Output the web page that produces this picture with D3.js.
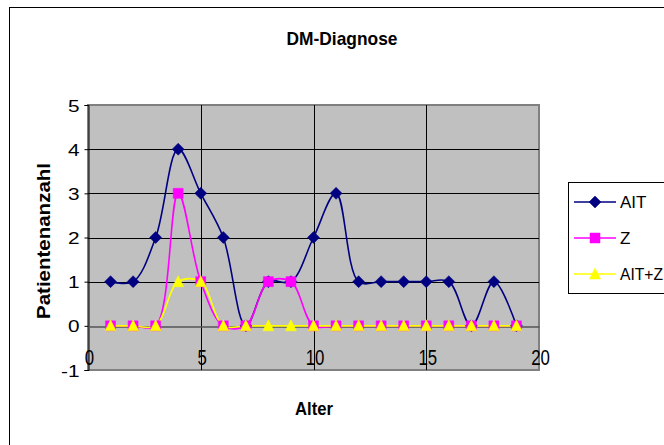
<!DOCTYPE html>
<html><head><meta charset="utf-8">
<script src="https://cdn.jsdelivr.net/npm/d3@7"></script>
<style>
body{margin:0;background:#fff;}
svg{display:block;font-family:"Liberation Sans",Arial,sans-serif;}
</style></head>
<body>
<svg id="chart" width="664" height="445"></svg>
<script>
const ages = [1,2,3,4,5,6,7,8,9,10,11,12,13,14,15,16,17,18,19];
const ait  = [1,1,2,4,3,2,0,1,1,2,3,1,1,1,1,1,0,1,0];
const zv   = [0,0,0,3,1,0,0,1,1,0,0,0,0,0,0,0,0,0,0];
const aitz = [0,0,0,1,1,0,0,0,0,0,0,0,0,0,0,0,0,0,0];
const seriesNames = ["AIT","Z","AIT+Z"];
const xTicks = [0,5,10,15,20];
const yTicks = [-1,0,1,2,3,4,5];

const svg = d3.select("#chart");
const x = d3.scaleLinear().domain([0,20]).range([88,539]);
const y = d3.scaleLinear().domain([-1,5]).range([370,105]);
const fmt = d => String(d);

// outer chart frame
svg.append("rect").attr("x",9.5).attr("y",7.5).attr("width",700).attr("height",500)
  .attr("fill","#fff").attr("stroke","#000").attr("stroke-width",1);

// plot area
svg.append("rect").attr("x",x(0)).attr("y",y(5)).attr("width",x(20)-x(0)).attr("height",y(-1)-y(5))
  .attr("fill","#C0C0C0").attr("stroke","#808080").attr("stroke-width",2);

// horizontal gridlines
svg.append("g").selectAll("line").data(yTicks.filter(d=>d>0 && d<5)).join("line")
  .attr("x1",x(0)).attr("x2",x(20)).attr("y1",d=>Math.round(y(d))+0.5).attr("y2",d=>Math.round(y(d))+0.5)
  .attr("stroke","#000").attr("stroke-width",1);
// vertical gridlines
svg.append("g").selectAll("line").data(xTicks.filter(d=>d>0 && d<20)).join("line")
  .attr("x1",d=>Math.round(x(d))+0.5).attr("x2",d=>Math.round(x(d))+0.5).attr("y1",y(5)).attr("y2",y(-1))
  .attr("stroke","#000").attr("stroke-width",1);

// y axis
const yAxis = svg.append("g").attr("transform",`translate(${x(0)+0.5},0)`)
  .call(d3.axisLeft(y).tickValues(yTicks).tickSize(4).tickPadding(5).tickFormat(fmt));
yAxis.select(".domain").attr("stroke","#000");
yAxis.selectAll(".tick line").attr("stroke","#000");
yAxis.selectAll(".tick text").attr("font-size",16).attr("fill","#000")
  .attr("font-family","Liberation Sans, Arial, sans-serif")
  .each(function(){
    const t=d3.select(this); const tx=+t.attr("x");
    t.attr("x",0).attr("transform",`translate(${tx},1) scale(1.3,1)`);
  });

// x axis at y=0
const xAxis = svg.append("g").attr("transform",`translate(0,${Math.round(y(0))+0.5})`)
  .call(d3.axisBottom(x).tickValues(xTicks).tickSize(0).tickPadding(0).tickFormat(fmt));
xAxis.select(".domain").attr("stroke","#555").attr("stroke-width",1.5);
xAxis.selectAll(".tick text").attr("font-size",21).attr("fill","#000").attr("dy",0)
  .attr("font-family","Liberation Sans, Arial, sans-serif")
  .attr("y",0).attr("transform","translate(1,38) scale(0.8,1.05)");

// lines
const line = d3.line().x(d=>x(d[0])).y(d=>y(d[1])).curve(d3.curveCatmullRom.alpha(0.5));
const series = [
  {name:seriesNames[0], vals:ait, color:"#000080", marker:"diamond"},
  {name:seriesNames[1], vals:zv, color:"#FF00FF", marker:"square"},
  {name:seriesNames[2], vals:aitz, color:"#FFFF00", marker:"triangle"}
];
function markerPath(type){
  if(type==="diamond") return "M0,-6L6,0L0,6L-6,0Z";
  if(type==="square") return "M-5,-5H5V5H-5Z";
  return "M0,-6L5.5,5H-5.5Z";
}
series.forEach(s=>{
  const pts = ages.map((a,i)=>[a,s.vals[i]]);
  svg.append("path").datum(pts).attr("d",line).attr("fill","none")
    .attr("stroke",s.color).attr("stroke-width",1.6);
});
series.forEach(s=>{
  const pts = ages.map((a,i)=>[a,s.vals[i]]);
  svg.append("g").selectAll("path").data(pts).join("path")
    .attr("d",markerPath(s.marker))
    .attr("transform",d=>`translate(${x(d[0])},${y(d[1])})`)
    .attr("fill",s.color).attr("stroke",s.color).attr("stroke-width",0.5);
});

// titles
svg.append("text").attr("x",342).attr("y",45).attr("text-anchor","middle")
  .attr("font-size",19).attr("font-weight","bold").attr("textLength",111).attr("lengthAdjust","spacingAndGlyphs")
  .text("DM-Diagnose");
svg.append("text").attr("x",314).attr("y",415).attr("text-anchor","middle")
  .attr("font-size",19).attr("font-weight","bold").attr("textLength",38).attr("lengthAdjust","spacingAndGlyphs")
  .text("Alter");
svg.append("text").attr("transform","translate(50,241) rotate(-90)").attr("text-anchor","middle")
  .attr("font-size",19).attr("font-weight","bold").attr("textLength",156).attr("lengthAdjust","spacingAndGlyphs")
  .text("Patientenanzahl");

// legend
const lg = svg.append("g");
lg.append("rect").attr("x",568.5).attr("y",182.5).attr("width",150).attr("height",111)
  .attr("fill","#fff").attr("stroke","#000").attr("stroke-width",1);
const rowY = [202,238,274];
series.forEach((s,i)=>{
  lg.append("line").attr("x1",574).attr("x2",616).attr("y1",rowY[i]).attr("y2",rowY[i])
    .attr("stroke",s.color).attr("stroke-width",1.6);
  lg.append("path").attr("d",markerPath(s.marker)).attr("transform",`translate(595,${rowY[i]})`)
    .attr("fill",s.color).attr("stroke",s.color).attr("stroke-width",0.5);
  lg.append("text").attr("x",620).attr("y",rowY[i]+6).attr("font-size",17)
    .attr("textLength",s.name.length>3?43:null).attr("lengthAdjust","spacingAndGlyphs").text(s.name);
});
</script>
</body></html>
